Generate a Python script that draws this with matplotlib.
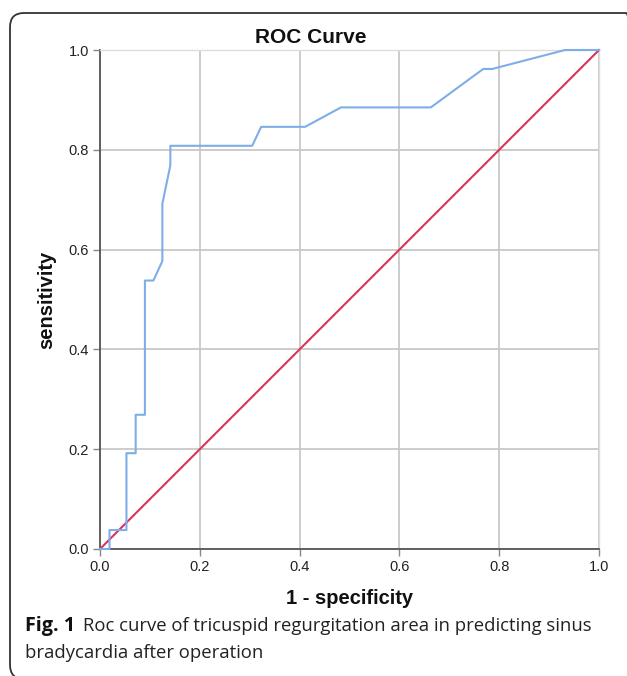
import matplotlib
matplotlib.use("Agg")
import matplotlib.pyplot as plt
from matplotlib.patches import FancyBboxPatch

# ROC curve points (1 - specificity, sensitivity)
fpr = [0.0, 0.019, 0.019, 0.053, 0.053, 0.0715, 0.0715, 0.09, 0.09, 0.107,
       0.125, 0.125, 0.141, 0.141, 0.305, 0.323, 0.411, 0.483, 0.663, 0.768,
       0.786, 0.932, 1.0]
tpr = [0.0, 0.0, 0.038, 0.038, 0.192, 0.192, 0.269, 0.269, 0.538, 0.538,
       0.577, 0.692, 0.769, 0.808, 0.808, 0.846, 0.846, 0.885, 0.885, 0.962,
       0.962, 1.0, 1.0]
ref_x = [0.0, 1.0]
ref_y = [0.0, 1.0]
ticks = [0.0, 0.2, 0.4, 0.6, 0.8, 1.0]
tick_labels = ["0.0", "0.2", "0.4", "0.6", "0.8", "1.0"]
caption_head = "Fig. 1"
caption_line1 = "Roc curve of tricuspid regurgitation area in predicting sinus"
caption_line2 = "bradycardia after operation"

W, H = 627, 676
fig = plt.figure(figsize=(W / 100, H / 100), dpi=100)

# partial rounded frame (top + left visible)
frame = FancyBboxPatch((0.10, -0.03), 6.30, 6.66,
                       boxstyle="round,pad=0,rounding_size=0.14",
                       transform=fig.dpi_scale_trans, fill=False,
                       edgecolor="#333333", linewidth=1.3, clip_on=False)
fig.patches.append(frame)

ax = fig.add_axes([100 / W, 1 - 549 / H, 499 / W, 499 / H])
ax.set_xlim(0, 1)
ax.set_ylim(0, 1)
ax.set_xticks(ticks)
ax.set_yticks(ticks)
ax.set_xticklabels(tick_labels)
ax.set_yticklabels(tick_labels)
ax.grid(True, color="#c8c8c8", linewidth=1.3)
ax.set_axisbelow(True)
for s in ["top", "right"]:
    ax.spines[s].set_color("#dddddd")
    ax.spines[s].set_linewidth(1.0)
for s in ["left", "bottom"]:
    ax.spines[s].set_color("#555555")
    ax.spines[s].set_linewidth(1.3)
ax.tick_params(axis="both", length=5, width=1, color="#888888",
               labelsize=10.5, labelcolor="#222222", pad=3)
for lab in ax.get_xticklabels() + ax.get_yticklabels():
    lab.set_family("Liberation Sans")

ax.plot(ref_x, ref_y, color="#d9345c", linewidth=1.5, clip_on=False, zorder=3)
ax.plot(fpr, tpr, color="#7eaee8", linewidth=1.5, clip_on=False, zorder=4)

fig.text(311 / W, 1 - 43 / H, "ROC Curve", fontsize=15, fontweight="bold",
         family="Liberation Sans", ha="center", va="baseline",
         color="#111111")
ax.set_xlabel("1 - specificity", fontsize=14.5, fontweight="bold",
              family="Liberation Sans", labelpad=11, color="#111111")
ax.set_ylabel("sensitivity", fontsize=14.5, fontweight="bold",
              family="Liberation Sans", labelpad=9, color="#111111")

cap_fs = 13.3
y1 = 1 - 631 / H
y2 = 1 - 658 / H
head = fig.text(25 / W, y1, caption_head, fontsize=14.2, va="baseline",
                family="Open Sans", fontweight="bold", color="#111111")
fig.canvas.draw()
bb = head.get_window_extent()
fig.text((bb.x1 + 8) / W, y1, caption_line1, fontsize=cap_fs,
         va="baseline", family="Open Sans", color="#222222")
fig.text(25 / W, y2, caption_line2, fontsize=cap_fs, va="baseline",
         family="Open Sans", color="#222222")
fig.savefig("out.png", dpi=100)
